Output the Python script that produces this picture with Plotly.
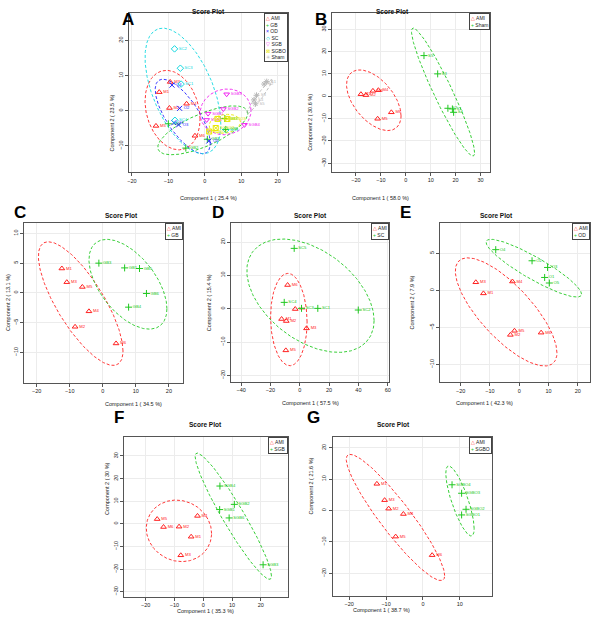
import numpy as np
import plotly.graph_objects as go

# ---------------- data ----------------
# Panel A : all groups
A_AMI_x = [-9.5, -12.5, -9.7, -5.0, -13.4, -2.7]
A_AMI_y = [8.2, 5.3, 0.8, 2.0, -4.3, -7.1]
A_AMI_l = ["M3", "M1", "M2", "M4", "M5", "M6"]
A_GB_x = [-10.0, -5.2, 0.7, 5.5, 5.7]
A_GB_y = [-3.7, -10.6, -8.1, -2.2, -5.3]
A_GB_l = ["GB4", "GB2", "GB1", "GB3", "GB5"]
A_OD_x = [-9.0, -6.9, -8.5, -7.2, 1.1]
A_OD_y = [7.3, 0.7, -3.4, -4.0, -8.6]
A_OD_l = ["O4", "O2", "O1", "O3", "O5"]
A_SC_x = [-8.3, -6.7, -6.5, -8.2, 5.8]
A_SC_y = [17.6, 12.1, 7.6, -2.7, -5.4]
A_SC_l = ["SC2", "SC3", "SC1", "SC4", "SC5"]
A_SGB_x = [6.0, 5.1, 0.9, 0.5, 10.9]
A_SGB_y = [4.7, 0.5, -0.8, -2.6, -4.0]
A_SGB_l = ["SGB3", "SGB2", "SGB1", "SGB6", "SGB4"]
A_SGBO_x = [3.5, 6.2, 3.0, 1.2]
A_SGBO_y = [-2.3, -2.3, -4.9, -5.9]
A_SGBO_l = ["SGBO1", "SGBO3", "SGBO2", "SGBO4"]
A_Sham_x = [17.0, 16.3, 14.2, 13.5, 13.9]
A_Sham_y = [8.3, 7.6, 4.4, 3.1, 2.0]
A_Sham_l = ["S1", "S2", "S3", "S4", "S5"]

# Panel B : AMI vs Sham
B_AMI_x = [-18.0, -16.0, -13.2, -11.0, -5.8, -11.3]
B_AMI_y = [0.9, 0.5, 2.4, 2.7, -7.2, -10.1]
B_AMI_l = ["M1", "M2", "M3", "M4", "M6", "M5"]
B_Sham_x = [7.3, 12.8, 16.9, 18.7, 19.2]
B_Sham_y = [18.2, 10.0, -5.4, -5.7, -7.2]
B_Sham_l = ["S5", "S3", "S2", "S1", "S4"]

# Panel C : AMI vs GB
C_AMI_x = [-12.4, -10.9, -6.2, -4.2, -8.4, 4.0]
C_AMI_y = [4.1, 1.8, 1.0, -3.1, -5.7, -8.5]
C_AMI_l = ["M1", "M3", "M5", "M4", "M2", "M6"]
C_GB_x = [-1.2, 6.6, 11.1, 13.2, 7.8]
C_GB_y = [5.0, 4.2, 4.1, -0.1, -2.4]
C_GB_l = ["GB3", "GB1", "GB5", "GB6", "GB4"]

# Panel D : AMI vs SC
D_AMI_x = [-8.3, -3.1, -12.4, -9.2, 4.6, -9.5]
D_AMI_y = [7.1, -0.1, -3.1, -3.7, -5.9, -12.5]
D_AMI_l = ["M6", "M4", "M1", "M2", "M3", "M5"]
D_SC_x = [-3.8, -10.6, 1.2, 12.3, 39.9]
D_SC_y = [18.1, 1.9, 0.1, 0.1, -0.4]
D_SC_l = ["SC5", "SC4", "SC3", "SC1", "SC2"]

# Panel E : AMI vs OD
E_AMI_x = [-14.8, -12.2, -2.3, -1.6, -3.0, 7.5]
E_AMI_y = [1.1, -0.4, 1.2, -5.45, -6.0, -5.7]
E_AMI_l = ["M3", "M1", "M4", "M5", "M2", "M6"]
E_OD_x = [-8.0, 4.4, 9.7, 8.7, 10.3]
E_OD_y = [5.5, 4.0, 3.1, 1.75, 1.0]
E_OD_l = ["O4", "O2", "O3", "O1", "O5"]

# Panel F : AMI vs SGB
F_AMI_x = [-16.0, -13.8, -8.4, -2.0, -4.2, -7.8]
F_AMI_y = [2.1, -1.4, -1.25, 3.5, -5.7, -13.9]
F_AMI_l = ["M5", "M6", "M2", "M4", "M1", "M3"]
F_SGB_x = [5.8, 10.8, 5.7, 9.0, 20.8]
F_SGB_y = [16.7, 8.6, 6.3, 2.6, -18.1]
F_SGB_l = ["SGB4", "SGB2", "SGB1", "SGB6", "SGB3"]

# Panel G : AMI vs SGBO
G_AMI_x = [-12.5, -10.4, -9.3, -5.3, -7.4, 2.5]
G_AMI_y = [8.5, 3.3, 0.6, -1.1, -8.3, -14.2]
G_AMI_l = ["M1", "M3", "M2", "M4", "M5", "M6"]
G_SGBO_x = [7.9, 10.5, 11.7, 10.5]
G_SGBO_y = [8.2, 5.5, 0.4, -1.4]
G_SGBO_l = ["SGBO4", "SGBO3", "SGBO2", "SGBO1"]

# 95% ellipses: (centre x, centre y, x half-extent, y half-extent, phase deg)
A_ELL = {"AMI": (-8.85, 0.2, 7.55, 11.3, 103), "GB": (-0.55, -5.55, 12.35, 6.95, 46),
         "OD": (-6.05, -1.6, 7.55, 10.6, 136), "SC": (-6.0, 5.65, 10.4, 17.85, 122),
         "SGB": (5.7, -0.3, 7.0, 6.5, 86), "SGBO": (5.5, -3.7, 4.3, 2.7, 80),
         "Sham": (15.0, 4.0, 3.5, 4.9, 15)}
B_ELL = {"AMI": (-12.85, -1.8, 10.95, 13.6, 121), "Sham": (14.95, 1.85, 12.65, 28.65, 161)}
C_ELL = {"AMI": (-6.7, -1.8, 12.8, 10.4, 140), "GB": (7.6, 1.45, 11.8, 7.55, 123)}
D_ELL = {"AMI": (-7.45, -3.25, 12.45, 13.85, 93), "SC": (7.3, 3.9, 43.4, 17.0, 116)}
E_ELL = {"AMI": (-4.45, -2.9, 17.35, 7.3, 139), "OD": (5.0, 3.0, 16.3, 3.9, 154)}
F_ELL = {"AMI": (-8.45, -3.1, 11.35, 13.6, 95), "SGB": (10.45, 3.35, 13.25, 27.9, 161)}
G_ELL = {"AMI": (-7.45, -2.2, 13.35, 20.1, 157), "SGBO": (10.05, 3.05, 3.85, 11.15, 142)}

VARIANCE = {"A": ("25.4", "23.5"), "B": ("58.0", "30.6"), "C": ("34.5", "13.1"),
            "D": ("57.5", "15.4"), "E": ("42.3", "7.9"), "F": ("35.3", "30"), "G": ("38.7", "21.6")}

# ---------------- styles (R palette order: group index -> colour / pch) ----------------
PAL = ["#FF2020", "#20C820", "#2020FF", "#10D8E0", "#F020F0", "#E8E800", "#B8B8B8"]
SYMS = ["triangle-up-open", "cross-thin-open", "x-thin-open", "diamond-open",
        "triangle-down-open", "square-x-open", "asterisk-open"]
LEG = ["△", "+", "×", "◇", "▽", "⊠", "✳"]
FONT = "Liberation Sans, Arial, sans-serif"

W, H = 600, 621
def px(x):
    return x / W
def py(y):
    return 1 - y / H

g = globals()
panels = [
    ("A", ["AMI", "GB", "OD", "SC", "SGB", "SGBO", "Sham"], (128, 13, 287.3, 172),
     [-20.7, 22.8], [-17.4, 27.8], [-20, -10, 0, 10, 20], [-10, 0, 10, 20], A_ELL),
    ("B", ["AMI", "Sham"], (331.7, 12.7, 490.7, 171.7),
     [-29.6, 33.9], [-33.8, 37.4], [-20, -10, 0, 10, 20, 30], [-30, -20, -10, 0, 10, 20, 30], B_ELL),
    ("C", ["AMI", "GB"], (22.3, 222.7, 181.7, 382.7),
     [-23.8, 24.2], [-15.1, 11.8], [-20, -10, 0, 10, 20], [-10, -5, 0, 5, 10], C_ELL),
    ("D", ["AMI", "SC"], (230, 222.7, 389.3, 381.7),
     [-47, 61.1], [-21.9, 25.8], [-40, -20, 0, 20, 40, 60], [-20, -10, 0, 10, 20], D_ELL),
    ("E", ["AMI", "OD"], (440, 222.7, 590.7, 382.3),
     [-27.1, 24.1], [-12.4, 9.14], [-20, -10, 0, 10, 20], [-10, -5, 0, 5], E_ELL),
    ("F", ["AMI", "SGB"], (122.7, 436.7, 287.3, 596.7),
     [-27.5, 29.4], [-32.2, 38.5], [-20, -10, 0, 10, 20], [-30, -20, -10, 0, 10, 20, 30], F_ELL),
    ("G", ["AMI", "SGBO"], (332.3, 436.7, 492.3, 595.7),
     [-24.5, 18.7], [-27.1, 23.5], [-20, -10, 0, 10], [-20, -10, 0, 10, 20], G_ELL),
]
LETTER_POS = {"A": (119, 8), "B": (321, 8), "C": (10, 213), "D": (217, 213),
              "E": (413, 213), "F": (111, 429), "G": (313, 429)}

fig = go.Figure()
annotations = []
t = np.linspace(0, 2 * np.pi, 240)

for i, (key, groups, frame, xr, yr, xt, yt, ell) in enumerate(panels, start=1):
    L, T, R, B = frame
    xa = "x" if i == 1 else f"x{i}"
    ya = "y" if i == 1 else f"y{i}"
    axis_common = dict(showline=True, mirror=True, linecolor="#555555", linewidth=1,
                       ticks="outside", ticklen=3, tickcolor="#555555", tickwidth=1,
                       showgrid=True, gridcolor="#ececec", gridwidth=1, zeroline=False,
                       tickfont=dict(size=5.5, color="#222222", family=FONT))
    fig.update_layout(**{
        ("xaxis" if i == 1 else f"xaxis{i}"): dict(domain=[px(L), px(R)], range=xr, tickvals=xt,
                                                   anchor=ya, **axis_common),
        ("yaxis" if i == 1 else f"yaxis{i}"): dict(domain=[py(B), py(T)], range=yr, tickvals=yt,
                                                   anchor=xa, tickangle=-90, **axis_common),
    })
    for k, grp in enumerate(groups):
        cx, cy, xh, yh, ph = ell[grp]
        fig.add_trace(go.Scatter(x=cx + xh * np.cos(t), y=cy + yh * np.cos(t - np.radians(ph)),
                                 mode="lines", xaxis=xa, yaxis=ya, hoverinfo="skip",
                                 line=dict(color=PAL[k], width=0.9, dash="3px,2px")))
    for k, grp in enumerate(groups):
        xs = g[f"{key}_{grp}_x"]
        ys = g[f"{key}_{grp}_y"]
        ls = g[f"{key}_{grp}_l"]
        fig.add_trace(go.Scatter(x=xs, y=ys, text=ls, mode="markers+text", xaxis=xa, yaxis=ya,
                                 textposition="middle right",
                                 textfont=dict(size=4.2, color=PAL[k], family=FONT),
                                 marker=dict(symbol=SYMS[k], size=5, color=PAL[k],
                                             line=dict(color=PAL[k], width=1))))
    cxp = (L + R) / 2
    off = 19 if B > 590 else 21
    annotations.append(dict(x=px(cxp), y=py(T - 7), xref="paper", yref="paper", text="<b>Score Plot</b>",
                            showarrow=False, font=dict(size=6.5, color="#111111", family=FONT)))
    annotations.append(dict(x=px(cxp), y=py(B + off), xref="paper", yref="paper",
                            text=f"Component 1 ( {VARIANCE[key][0]} %)",
                            showarrow=False, font=dict(size=5.5, color="#222222", family=FONT)))
    annotations.append(dict(x=px(L - 22), y=py((T + B) / 2), xref="paper", yref="paper",
                            text=f"Component 2 ( {VARIANCE[key][1]} %)", textangle=-90,
                            showarrow=False, font=dict(size=5.5, color="#222222", family=FONT)))
    lx, ly = LETTER_POS[key]
    annotations.append(dict(x=px(lx), y=py(ly), xref="paper", yref="paper", text=f"<b>{key}</b>",
                            showarrow=False, font=dict(size=17, color="#000000", family=FONT)))
    leg = "<br>".join(f"<span style='color:{PAL[k]}'>{LEG[k]}</span> {g_}" for k, g_ in enumerate(groups))
    annotations.append(dict(x=px(R), y=py(T), xref="paper", yref="paper", xanchor="right", yanchor="top",
                            text=leg, align="left", showarrow=False, bgcolor="white",
                            bordercolor="#444444", borderwidth=1, borderpad=1,
                            font=dict(size=5, color="#222222", family=FONT)))

fig.update_layout(width=W, height=H, margin=dict(l=0, r=0, t=0, b=0), showlegend=False,
                  plot_bgcolor="white", paper_bgcolor="white", annotations=annotations)
fig.write_html("out.html", config={"displayModeBar": False},
               post_script="document.body.style.margin='0px';")
